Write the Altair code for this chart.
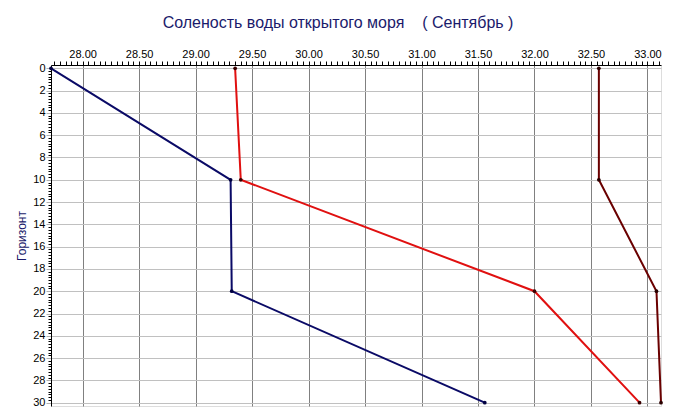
import altair as alt
import pandas as pd

# ---- data ----
depth = [0, 10, 20, 30]
series_names = ["Ряд 1", "Ряд 2", "Ряд 3"]
salinity_blue = [27.72, 29.31, 29.32, 31.56]
salinity_red = [29.35, 29.40, 32.00, 32.93]
salinity_dark = [32.57, 32.57, 33.08, 33.12]

line_colors = ["#0a0a66", "#e01010", "#6a0000"]
marker_colors = ["#000040", "#3a0000", "#2a0000"]

x_ticks = [round(27.75 + 0.05 * i, 2) for i in range(108)]
y_ticks = [0.25 * i for i in range(121)]

rows = []
for name, vals in zip(series_names, [salinity_blue, salinity_red, salinity_dark]):
    for d, v in zip(depth, vals):
        rows.append({"series": name, "depth": d, "salinity": v})
df = pd.DataFrame(rows)

x_major_test = "abs(datum.value * 2 - round(datum.value * 2)) < 0.000001"
y_major_test = "datum.value % 2 === 0"

x_enc = alt.X(
    "salinity:Q",
    scale=alt.Scale(domain=[27.72, 33.12], nice=False, zero=False),
    axis=alt.Axis(
        orient="top",
        values=x_ticks,
        title=None,
        labelExpr=f"{x_major_test} ? format(datum.value, '.2f') : ''",
        labelOverlap=False,
        labelFont="Liberation Sans",
        labelFontSize=11,
        labelColor="black",
        labelPadding=2,
        tickSize=4,
        tickColor="black",
        domainColor="black",
        grid=True,
        gridColor="#808080",
        gridOpacity={"condition": {"test": x_major_test, "value": 1}, "value": 0},
    ),
)

y_enc = alt.Y(
    "depth:Q",
    scale=alt.Scale(domain=[-0.3, 30.3], reverse=True, nice=False, zero=False),
    axis=alt.Axis(
        orient="left",
        values=y_ticks,
        title="Горизонт",
        titleFont="Liberation Sans",
        titleFontSize=12,
        titleFontWeight="normal",
        titleColor="#1a1a6b",
        titlePadding=4,
        labelExpr=f"{y_major_test} ? datum.value : ''",
        labelOverlap=False,
        labelFont="Liberation Sans",
        labelFontSize=11,
        labelColor="black",
        labelPadding=1,
        tickSize={"condition": {"test": y_major_test, "value": 5}, "value": 3},
        tickColor={"condition": {"test": y_major_test, "value": "#b0b0b0"}, "value": "black"},
        domainColor="black",
        grid=True,
        gridColor="#c0c0c0",
        gridOpacity={"condition": {"test": y_major_test, "value": 1}, "value": 0},
    ),
)

base = alt.Chart(df)

lines = base.mark_line(strokeWidth=2).encode(
    x=x_enc,
    y=y_enc,
    order="depth:Q",
    color=alt.Color(
        "series:N",
        scale=alt.Scale(domain=series_names, range=line_colors),
        legend=None,
    ),
)

points = base.mark_point(filled=True, size=14, opacity=1, shape="circle").encode(
    x=x_enc,
    y=y_enc,
    color=alt.Color(
        "series:N",
        scale=alt.Scale(domain=series_names, range=marker_colors),
        legend=None,
    ),
)

chart = (
    alt.layer(lines, points)
    .resolve_scale(color="independent")
    .properties(
        width=610,
        height=341,
        autosize="none",
        padding={"left": 43, "top": 57, "right": 6, "bottom": 5},
        title=alt.TitleParams(
            text="Соленость воды открытого моря\u00a0\u00a0\u00a0\u00a0( Сентябрь )",
            font="Liberation Sans",
            fontSize=16,
            fontWeight="normal",
            color="#1a1a6b",
            anchor="middle",
            dx=-18,
            offset=17,
        ),
    )
    .configure_view(stroke="black", strokeWidth=1)
    .configure(background="white")
)

chart.save("out.html", embed_options={"renderer": "svg", "actions": False})
